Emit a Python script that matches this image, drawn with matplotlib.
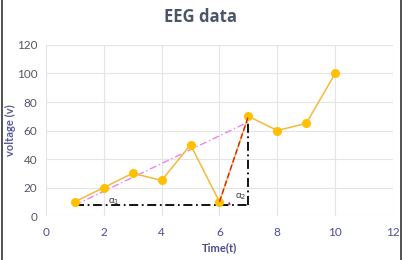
import matplotlib
matplotlib.use("Agg")
from matplotlib import pyplot as plt
from matplotlib.patches import Arc, Rectangle

# EEG samples
time_t = [1, 2, 3, 4, 5, 6, 7, 8, 9, 10]
voltage = [10, 20, 30, 25, 50, 10, 70, 60, 65, 100]

# construction lines
base_y = 7.7
pink_line_x = [1, 7]
pink_line_y = [7.7, 66]
red_line_x = [6, 7]
red_line_y = [10, 70]

x_ticks = [0, 2, 4, 6, 8, 10, 12]
y_ticks = [0, 20, 40, 60, 80, 100, 120]

plt.rcParams["font.family"] = ["Lato", "DejaVu Sans"]

fig = plt.figure(figsize=(4.1, 2.6), dpi=100)
ax = fig.add_axes([0.112, 0.169, 0.8465, 0.658])

ax.plot(time_t, voltage, color="#F5B93A", lw=1.1, marker="o", ms=5.5,
        markerfacecolor="#FFC000", markeredgecolor="#FFC000", zorder=3)

# angle helpers
ax.plot([time_t[0], time_t[6]], [base_y, base_y], color="black", lw=1.3,
        ls=(0, (5, 2, 1, 2)), zorder=2)
ax.plot([time_t[6], time_t[6]], [base_y, voltage[6]], color="black", lw=1.3,
        ls=(0, (5, 2, 1, 2)), zorder=2)
ax.plot(pink_line_x, pink_line_y, color="#EE82EE", lw=1.0,
        ls=(0, (5, 2, 1, 2)), zorder=2)
ax.plot(red_line_x, red_line_y, color="#D62020", lw=1.0, ls=(0, (4, 2)), zorder=4)

# arcs sized to look round on screen (28.9 px per x unit, 1.425 px per y unit)
r1 = 27
ax.add_patch(Arc((1, base_y), 2 * r1 / 28.9, 2 * r1 / 1.425, theta1=0, theta2=32,
                 color="#EE82EE", lw=1.0, zorder=2))
r2 = 10
ax.add_patch(Arc((6, base_y), 2 * r2 / 28.9, 2 * r2 / 1.425, theta1=0, theta2=80,
                 color="#C0203A", lw=1.3, zorder=4))
ax.text(2.35, 10, "α$_1$", fontsize=7, color="#333333", ha="center", va="center")
ax.text(6.72, 14, "α$_2$", fontsize=7, color="#333333", ha="center", va="center")

ax.set_xlim(0, 12)
ax.set_ylim(0, 120)
ax.set_xticks(x_ticks)
ax.set_yticks(y_ticks)
ax.grid(True, color="#E4E4E4", lw=0.8)
ax.set_axisbelow(True)
for s in ax.spines.values():
    s.set_visible(False)
ax.tick_params(length=0, labelsize=8.5)
ax.tick_params(axis="x", colors="#4B4B9C", pad=8)
ax.tick_params(axis="y", colors="#555566", pad=6)

ax.set_xlabel("Time(t)", fontsize=8, fontweight="bold", color="#4B4B8C", labelpad=3)
fig.text(0.026, 0.5, "voltage (v)", rotation=90, fontsize=8, fontweight="bold",
         color="#5A5A9C", ha="center", va="center")

fig.suptitle("EEG data", x=0.488, y=0.97, fontsize=12, fontweight="bold",
             color="#4A5568", family=["Open Sans", "DejaVu Sans"])

# outer frame
fig.patches.append(Rectangle((0.004, -0.01), 0.975, 1.02, transform=fig.transFigure,
                             fill=False, edgecolor="#333333", lw=1.2))

fig.savefig("out.png", dpi=100)
